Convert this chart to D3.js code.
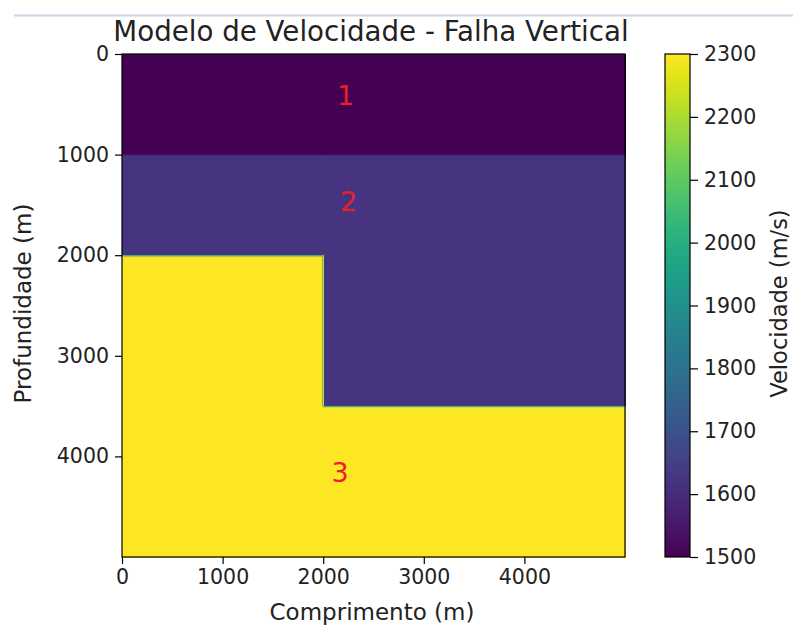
<!DOCTYPE html>
<html>
<head>
<meta charset="utf-8">
<script src="https://cdn.jsdelivr.net/npm/d3@7"></script>
<style>
  html, body { margin: 0; padding: 0; background: #fff; }
  svg { display: block; font-family: "DejaVu Sans", sans-serif; }
</style>
</head>
<body>
<svg id="chart" width="793" height="631"></svg>
<script>
// ---- data ----
const chartTitle = "Modelo de Velocidade - Falha Vertical";
const xLabel = "Comprimento (m)";
const yLabel = "Profundidade (m)";
const cbLabel = "Velocidade (m/s)";
const modelExtent = [0, 5000];
const faultX = 2000;
// layer bottoms: left of fault, right of fault
const layerNames = ["1", "2", "3"];
const layerVelocity = [1500, 1620, 2300];
const layerBottomLeft = [1000, 2000, 5000];
const layerBottomRight = [1000, 3500, 5000];
const labelX = [2222, 2252, 2167];
const labelY = [408, 1466, 4155];
const xTicks = [0, 1000, 2000, 3000, 4000];
const yTicks = [0, 1000, 2000, 3000, 4000];
const cbTicks = [1500, 1600, 1700, 1800, 1900, 2000, 2100, 2200, 2300];
const cbDomain = [1500, 2300];

// ---- layout ----
const svg = d3.select("#chart");
const plot = { left: 122, top: 54, width: 503, height: 503 };
const cb = { left: 665, top: 54, width: 25, height: 503 };

const x = d3.scaleLinear().domain(modelExtent).range([plot.left, plot.left + plot.width]);
const y = d3.scaleLinear().domain(modelExtent).range([plot.top, plot.top + plot.height]);
const color = d3.scaleSequential(d3.interpolateViridis).domain(cbDomain);

// top separator line
svg.append("line").attr("x1", 14).attr("x2", 793).attr("y1", 15.5).attr("y2", 15.5)
  .attr("stroke", "#c9d5e6").attr("stroke-width", 2);

// ---- layers ----
const cells = [];
layerVelocity.forEach((v, i) => {
  const topL = i === 0 ? modelExtent[0] : layerBottomLeft[i - 1];
  const topR = i === 0 ? modelExtent[0] : layerBottomRight[i - 1];
  cells.push({ v, x0: modelExtent[0], x1: faultX, y0: topL, y1: layerBottomLeft[i] });
  cells.push({ v, x0: faultX, x1: modelExtent[1], y0: topR, y1: layerBottomRight[i] });
});
const g = svg.append("g");
g.selectAll("rect.cell").data(cells.filter(c => c.y1 > c.y0)).enter().append("rect")
  .attr("class", "cell")
  .attr("x", d => x(d.x0)).attr("y", d => y(d.y0))
  .attr("width", d => x(d.x1) - x(d.x0) + 0.5).attr("height", d => y(d.y1) - y(d.y0) + 0.5)
  .attr("fill", d => color(d.v))
  .attr("shape-rendering", "crispEdges");

// interpolation seams at the layer interfaces (smoothing of imshow)
const seams = [];
for (let i = 0; i < layerVelocity.length - 1; i++) {
  const mid = (layerVelocity[i] + layerVelocity[i + 1]) / 2;
  seams.push({ x0: modelExtent[0], x1: faultX, y: layerBottomLeft[i], v: mid });
  seams.push({ x0: faultX, x1: modelExtent[1], y: layerBottomRight[i], v: mid });
}
g.selectAll("line.seam").data(seams).enter().append("line")
  .attr("x1", d => x(d.x0)).attr("x2", d => x(d.x1))
  .attr("y1", d => y(d.y) + 0.5).attr("y2", d => y(d.y) + 0.5)
  .attr("stroke", d => color(d.v)).attr("stroke-width", 1.5).attr("opacity", 0.8);
// vertical fault seam between layer 2 (right) and layer 3 (left)
g.append("line")
  .attr("x1", x(faultX) - 0.5).attr("x2", x(faultX) - 0.5)
  .attr("y1", y(layerBottomLeft[1])).attr("y2", y(layerBottomRight[1]))
  .attr("stroke", color((layerVelocity[1] + layerVelocity[2]) / 2)).attr("stroke-width", 1.2).attr("opacity", 0.7);

// layer labels
g.selectAll("text.lbl").data(layerNames).enter().append("text")
  .attr("x", (d, i) => x(labelX[i])).attr("y", (d, i) => y(labelY[i]))
  .attr("dy", "0.36em").attr("text-anchor", "middle")
  .attr("fill", "#e8202a").attr("font-size", 27).text(d => d);

// frame
svg.append("rect").attr("x", plot.left).attr("y", plot.top)
  .attr("width", plot.width).attr("height", plot.height)
  .attr("fill", "none").attr("stroke", "#000").attr("stroke-width", 1.2);

// axes
const fs = 20.5;
const xAxis = svg.append("g").attr("transform", `translate(0,${plot.top + plot.height})`)
  .call(d3.axisBottom(x).tickValues(xTicks).tickFormat(d3.format("d")).tickSize(7).tickPadding(5));
const yAxis = svg.append("g").attr("transform", `translate(${plot.left},0)`)
  .call(d3.axisLeft(y).tickValues(yTicks).tickFormat(d3.format("d")).tickSize(7).tickPadding(6));
[xAxis, yAxis].forEach(a => {
  a.select(".domain").remove();
  a.selectAll("line").attr("stroke", "#000").attr("stroke-width", 1.2);
  a.selectAll("text").attr("font-size", fs).attr("fill", "#222").attr("font-family", "DejaVu Sans");
});

// colorbar
const defs = svg.append("defs");
const grad = defs.append("linearGradient").attr("id", "cbgrad")
  .attr("x1", 0).attr("y1", 1).attr("x2", 0).attr("y2", 0);
d3.range(0, 1.0001, 0.05).forEach(t => {
  grad.append("stop").attr("offset", t).attr("stop-color", d3.interpolateViridis(t));
});
const cy = d3.scaleLinear().domain(cbDomain).range([cb.top + cb.height, cb.top]);
svg.append("rect").attr("x", cb.left).attr("y", cb.top).attr("width", cb.width).attr("height", cb.height)
  .attr("fill", "url(#cbgrad)").attr("stroke", "#000").attr("stroke-width", 1.2);
const cbAxis = svg.append("g").attr("transform", `translate(${cb.left + cb.width},0)`)
  .call(d3.axisRight(cy).tickValues(cbTicks).tickFormat(d3.format("d")).tickSize(8).tickPadding(6));
cbAxis.select(".domain").remove();
cbAxis.selectAll("line").attr("stroke", "#000").attr("stroke-width", 1.2);
cbAxis.selectAll("text").attr("font-size", fs).attr("fill", "#222").attr("font-family", "DejaVu Sans");

// titles
svg.append("text").attr("x", 371).attr("y", 41)
  .attr("text-anchor", "middle").attr("font-size", 27.7).attr("fill", "#222").text(chartTitle);
svg.append("text").attr("x", 372).attr("y", 620)
  .attr("text-anchor", "middle").attr("font-size", 23).attr("fill", "#222").text(xLabel);
svg.append("text").attr("transform", `translate(31,${plot.top + plot.height / 2 - 2}) rotate(-90)`)
  .attr("text-anchor", "middle").attr("font-size", 23).attr("fill", "#222").text(yLabel);
svg.append("text").attr("transform", `translate(787,${cb.top + cb.height / 2 - 2}) rotate(-90)`)
  .attr("text-anchor", "middle").attr("font-size", 22.5).attr("fill", "#222").text(cbLabel);
</script>
</body>
</html>
